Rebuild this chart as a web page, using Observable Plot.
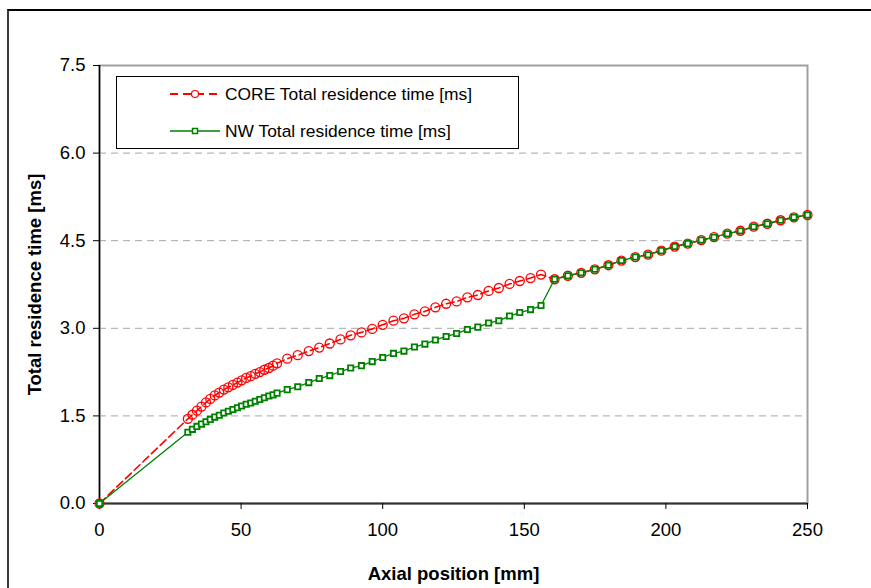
<!DOCTYPE html>
<html>
<head>
<meta charset="utf-8">
<script src="https://cdn.jsdelivr.net/npm/d3@7"></script>
<script src="https://cdn.jsdelivr.net/npm/@observablehq/plot@0.6"></script>
<style>
  html, body { margin: 0; padding: 0; background: #fff; overflow: hidden; }
  #wrap { position: relative; width: 871px; height: 588px; overflow: hidden; font-family: Arial, "Liberation Sans", sans-serif; }
  #outer { position: absolute; left: 7px; top: 9px; width: 1000px; height: 1000px; border-top: 2px solid #000; border-left: 2px solid #3a3a3a; }
  #chart { position: absolute; left: 0; top: 0; }
  #legend { position: absolute; left: 116px; top: 76px; width: 401px; height: 71px; border: 1px solid #000; background: #fff; }
  .row { position: absolute; left: 0; height: 22px; display: flex; align-items: center; font-size: 17.4px; color: #000; white-space: nowrap; }
  .row svg { margin-left: 53px; margin-right: 5px; }
</style>
</head>
<body>
<div id="wrap">
  <div id="outer"></div>
  <div id="chart"></div>
  <div id="legend"></div>
</div>
<script>
// Axial position [mm]
const axial = [0, 31.2, 32.8, 34.4, 36.0, 37.6, 39.1, 40.7, 42.3, 43.9, 45.5, 47.1, 48.7, 50.2, 51.8, 53.4, 55.0, 56.6, 58.2, 59.8, 61.3, 62.7,
  66.3, 70.0, 73.9, 77.6, 81.3, 85.1, 88.7, 92.5, 96.3, 100.0, 103.8, 107.5, 111.2, 114.9, 118.6, 122.4, 126.1, 129.9, 133.6, 137.4, 141.0, 144.8, 148.4, 152.2, 155.9,
  160.7, 165.4, 170.1, 174.9, 179.7, 184.3, 189.2, 193.7, 198.4, 203.1, 207.7, 212.5, 217.0, 221.7, 226.3, 231.0, 235.8, 240.5, 245.2, 250.0];
// CORE Total residence time [ms]
const coreTime = [0, 1.45, 1.52, 1.59, 1.66, 1.73, 1.79, 1.85, 1.90, 1.95, 1.99, 2.03, 2.07, 2.11, 2.15, 2.18, 2.22, 2.25, 2.29, 2.32, 2.36, 2.40,
  2.48, 2.54, 2.61, 2.67, 2.74, 2.81, 2.88, 2.93, 2.99, 3.06, 3.13, 3.17, 3.24, 3.29, 3.36, 3.42, 3.46, 3.53, 3.57, 3.64, 3.69, 3.76, 3.81, 3.86, 3.92,
  3.84, 3.90, 3.95, 4.01, 4.08, 4.16, 4.22, 4.26, 4.33, 4.40, 4.45, 4.51, 4.56, 4.62, 4.67, 4.74, 4.79, 4.85, 4.90, 4.94];
// NW Total residence time [ms]
const nwTime = [0, 1.22, 1.27, 1.32, 1.36, 1.40, 1.44, 1.48, 1.51, 1.55, 1.58, 1.61, 1.64, 1.67, 1.70, 1.72, 1.75, 1.78, 1.81, 1.84, 1.86, 1.89,
  1.95, 2.00, 2.07, 2.14, 2.19, 2.26, 2.32, 2.36, 2.43, 2.50, 2.57, 2.61, 2.68, 2.73, 2.80, 2.86, 2.91, 2.98, 3.02, 3.09, 3.13, 3.21, 3.27, 3.32, 3.39,
  3.84, 3.90, 3.95, 4.01, 4.08, 4.16, 4.22, 4.26, 4.33, 4.40, 4.45, 4.51, 4.56, 4.62, 4.67, 4.74, 4.79, 4.85, 4.90, 4.94];

const seriesNames = ["CORE Total residence time [ms]", "NW Total residence time [ms]"];
const xTicks = [0, 50, 100, 150, 200, 250];
const yTicks = [0, 1.5, 3.0, 4.5, 6.0, 7.5];
const yGrid = [1.5, 3.0, 4.5, 6.0];
const xTitle = "Axial position [mm]";
const yTitle = "Total residence time [ms]";

const RED = "#ff0000";
const GREEN = "#008000";

const core = axial.map((x, i) => ({x, y: coreTime[i]}));
const nw = axial.map((x, i) => ({x, y: nwTime[i]}));

const chart = Plot.plot({
  width: 871,
  height: 588,
  marginLeft: 99,
  marginRight: 64,
  marginTop: 65,
  marginBottom: 85,
  style: {fontFamily: "Arial, 'Liberation Sans', sans-serif", fontSize: "18.5px", color: "#000", background: "transparent", overflow: "visible"},
  x: {domain: [0, 250]},
  y: {domain: [0, 7.5]},
  marks: [
    Plot.ruleY(yGrid, {stroke: "#a6a6a6", strokeWidth: 1, strokeDasharray: "7,5"}),
    Plot.frame({stroke: "#a0a0a0", strokeWidth: 2}),
    Plot.ruleX([0], {stroke: "#000", strokeWidth: 1.5}),
    Plot.ruleY([0], {stroke: "#333", strokeWidth: 2}),
    Plot.axisX({ticks: xTicks, tickSize: 6, tickPadding: 13, label: null, stroke: "#000", fontSize: 18.5}),
    Plot.axisY({ticks: yTicks, tickSize: 6, tickPadding: 8, tickFormat: d3.format(".1f"), label: null, fontSize: 18.5}),
    Plot.text([xTitle], {text: d => d, frameAnchor: "bottom", dy: 76, lineAnchor: "bottom", fontWeight: "bold", fontSize: 18.5}),
    Plot.text([yTitle], {text: d => d, frameAnchor: "left", textAnchor: "middle", dx: -72, rotate: -90, lineAnchor: "top", fontWeight: "bold", fontSize: 18.5}),
    Plot.line(core, {x: "x", y: "y", stroke: RED, strokeWidth: 1.6, strokeDasharray: "8,4"}),
    Plot.dot(core, {x: "x", y: "y", r: 4.5, stroke: RED, strokeWidth: 1.3, fill: "none"}),
    Plot.line(nw, {x: "x", y: "y", stroke: GREEN, strokeWidth: 1.3}),
    Plot.dot(nw, {x: "x", y: "y", symbol: "square", r: 3, stroke: GREEN, strokeWidth: 1.8, fill: "#fff"})
  ]
});
document.getElementById("chart").appendChild(chart);

// Legend
const legend = document.getElementById("legend");
const rows = [
  {name: seriesNames[0], color: RED, dash: "8,5", symbol: "circle", top: 6},
  {name: seriesNames[1], color: GREEN, dash: null, symbol: "square", top: 43}
];
rows.forEach(r => {
  const row = document.createElement("div");
  row.className = "row";
  row.style.top = r.top + "px";
  const ns = "http://www.w3.org/2000/svg";
  const svg = document.createElementNS(ns, "svg");
  svg.setAttribute("width", 50);
  svg.setAttribute("height", 12);
  const line = document.createElementNS(ns, "line");
  line.setAttribute("x1", 0); line.setAttribute("x2", 50);
  line.setAttribute("y1", 6); line.setAttribute("y2", 6);
  line.setAttribute("stroke", r.color);
  line.setAttribute("stroke-width", r.dash ? 2 : 1.5);
  if (r.dash) line.setAttribute("stroke-dasharray", r.dash);
  svg.appendChild(line);
  let m;
  if (r.symbol === "circle") {
    m = document.createElementNS(ns, "circle");
    m.setAttribute("cx", 25); m.setAttribute("cy", 6); m.setAttribute("r", 3.5);
    m.setAttribute("fill", "#fff"); m.setAttribute("stroke", r.color); m.setAttribute("stroke-width", 1.2);
  } else {
    m = document.createElementNS(ns, "rect");
    m.setAttribute("x", 22.5); m.setAttribute("y", 3.5); m.setAttribute("width", 5); m.setAttribute("height", 5);
    m.setAttribute("fill", "#fff"); m.setAttribute("stroke", r.color); m.setAttribute("stroke-width", 1.5);
  }
  svg.appendChild(m);
  row.appendChild(svg);
  const t = document.createElement("span");
  t.textContent = r.name;
  row.appendChild(t);
  legend.appendChild(row);
});
</script>
</body>
</html>
